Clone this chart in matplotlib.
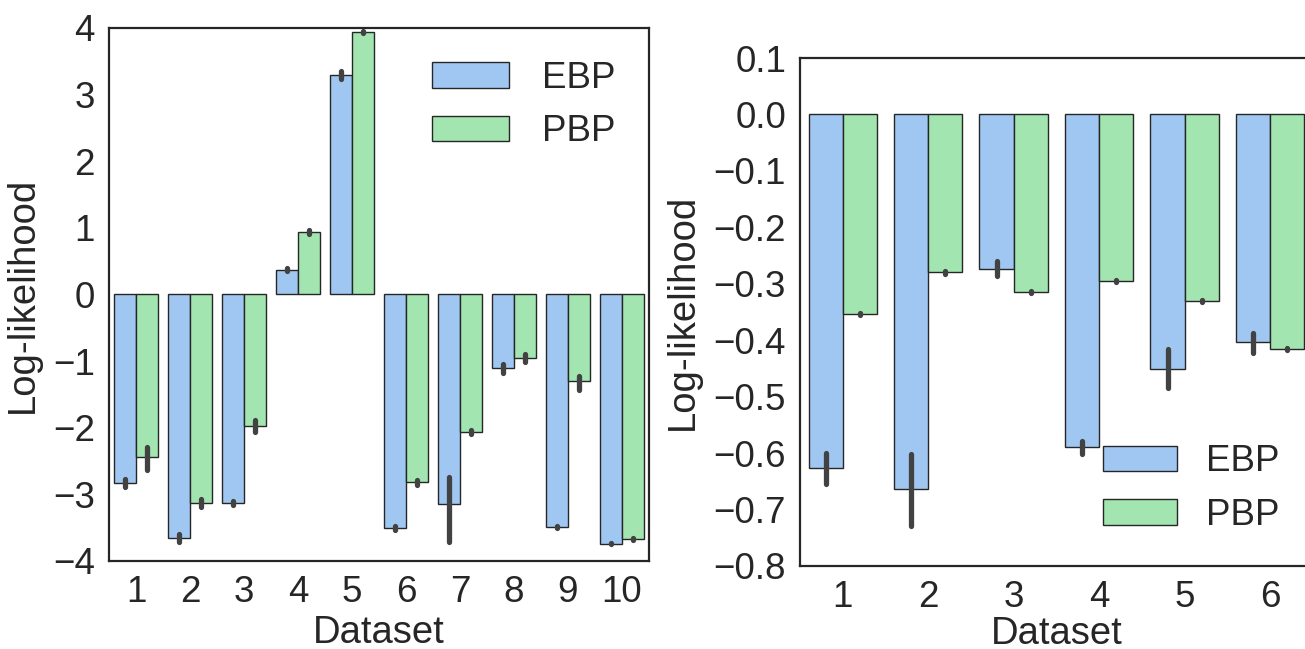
import numpy as np
import matplotlib
matplotlib.use('Agg')
import matplotlib.pyplot as plt

# left panel: 10 datasets
datasets_a = ['1', '2', '3', '4', '5', '6', '7', '8', '9', '10']
ebp_a = [-2.83, -3.66, -3.13, 0.37, 3.29, -3.50, -3.14, -1.10, -3.49, -3.74]
ebp_a_lo = [-2.89, -3.72, -3.16, 0.35, 3.23, -3.53, -3.71, -1.18, -3.51, -3.75]
ebp_a_hi = [-2.77, -3.60, -3.10, 0.39, 3.35, -3.47, -2.74, -1.04, -3.47, -3.73]
pbp_a = [-2.44, -3.13, -1.97, 0.94, 3.94, -2.82, -2.07, -0.95, -1.30, -3.67]
pbp_a_lo = [-2.63, -3.19, -2.07, 0.91, 3.92, -2.86, -2.10, -1.02, -1.44, -3.68]
pbp_a_hi = [-2.29, -3.07, -1.89, 0.97, 3.96, -2.78, -2.04, -0.90, -1.23, -3.66]

# right panel: 6 datasets
datasets_b = ['1', '2', '3', '4', '5', '6']
ebp_b = [-0.627, -0.663, -0.273, -0.590, -0.451, -0.403]
ebp_b_lo = [-0.654, -0.730, -0.287, -0.602, -0.485, -0.422]
ebp_b_hi = [-0.600, -0.602, -0.259, -0.578, -0.416, -0.387]
pbp_b = [-0.353, -0.280, -0.314, -0.295, -0.331, -0.416]
pbp_b_lo = [-0.355, -0.282, -0.316, -0.297, -0.333, -0.418]
pbp_b_hi = [-0.351, -0.278, -0.312, -0.293, -0.329, -0.414]

yticks_a = [-4, -3, -2, -1, 0, 1, 2, 3, 4]
yticks_b = [0.1, 0.0, -0.1, -0.2, -0.3, -0.4, -0.5, -0.6, -0.7, -0.8]

EBP_COLOR = '#a0c7f1'
PBP_COLOR = '#a2e5b0'
ERR_COLOR = '#424242'
TEXT_COLOR = '#262626'
FS = 26.5
LABEL_FS = 27.5

plt.rcParams['font.family'] = ['Liberation Sans', 'DejaVu Sans']
plt.rcParams['text.color'] = TEXT_COLOR
plt.rcParams['axes.labelcolor'] = TEXT_COLOR
plt.rcParams['xtick.color'] = TEXT_COLOR
plt.rcParams['ytick.color'] = TEXT_COLOR


def draw_panel(ax, names, ebp, ebp_lo, ebp_hi, pbp, pbp_lo, pbp_hi, xpad):
    x = np.arange(len(names))
    w = 0.4
    series = [(ebp, ebp_lo, ebp_hi, EBP_COLOR, 'EBP', -w / 2),
              (pbp, pbp_lo, pbp_hi, PBP_COLOR, 'PBP', w / 2)]
    for vals, lo, hi, col, lab, off in series:
        ax.bar(x + off, vals, width=w, color=col, edgecolor='#262626',
               linewidth=1.0, label=lab, zorder=2)
        vals = np.array(vals)
        yerr = [vals - np.array(lo), np.array(hi) - vals]
        eb = ax.errorbar(x + off, vals, yerr=yerr, fmt='none', ecolor=ERR_COLOR,
                         elinewidth=3.8, capsize=0, zorder=3)
        for c in eb[2]:
            c.set_capstyle('round')
    ax.set_xticks(x)
    ax.set_xticklabels(names)
    ax.set_xlim(-0.5, len(names) - 0.5)
    ax.set_xlabel('Dataset', fontsize=LABEL_FS, labelpad=xpad)
    ax.set_ylabel('Log-likelihood', fontsize=LABEL_FS, labelpad=9)
    ax.tick_params(axis='both', length=0, labelsize=FS, pad=10)
    for s in ax.spines.values():
        s.set_linewidth(1.6)
        s.set_color(TEXT_COLOR)


fig = plt.figure(figsize=(13.05, 6.49), dpi=100)

ax1 = fig.add_axes([0.0835, 0.1356, 0.4138, 0.8213])
draw_panel(ax1, datasets_a, ebp_a, ebp_a_lo, ebp_a_hi, pbp_a, pbp_a_lo, pbp_a_hi, 4)
ax1.set_ylim(-4, 4)
ax1.set_yticks(yticks_a)
ax1.legend(loc='upper right', frameon=False, fontsize=FS, borderaxespad=0.5,
           handlelength=2.1, handletextpad=0.9)

ax2 = fig.add_axes([0.613, 0.1279, 0.393, 0.7827])
draw_panel(ax2, datasets_b, ebp_b, ebp_b_lo, ebp_b_hi, pbp_b, pbp_b_lo, pbp_b_hi, 1)
ax2.set_ylim(-0.8, 0.1)
ax2.set_yticks(yticks_b)
ax2.set_yticklabels([('%.1f' % t).replace('-', '\u2212') for t in yticks_b])
ax2.legend(loc='lower right', frameon=False, fontsize=FS, borderaxespad=0.5,
           handlelength=2.0, handletextpad=0.8)

fig.savefig('out.png', dpi=100)
